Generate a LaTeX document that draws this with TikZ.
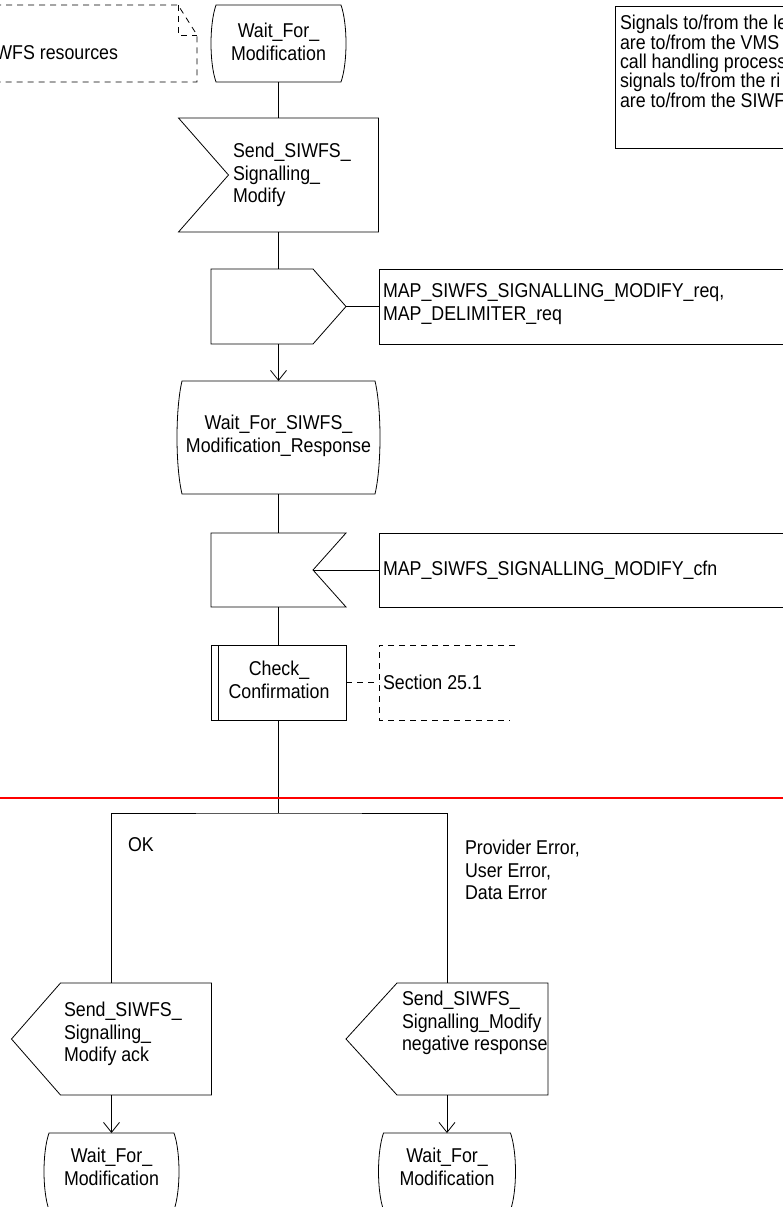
\documentclass[tikz,border=0pt]{standalone}
\usepackage{fontspec}
\setmainfont{Liberation Sans}[FakeStretch=0.89]
\usetikzlibrary{arrows.meta,calc}
\newcommand\fs{\fontsize{20}{22.5}\selectfont}
\newcommand\statepath[2]{%
 \draw[ln] ($(#1.north west)+(#2,0)$) -- ($(#1.north east)+(-#2,0)$)
  .. controls ($(#1.north east)!0.25!(#1.south east)+(#2/3,0)$) and ($(#1.north east)!0.75!(#1.south east)+(#2/3,0)$) .. ($(#1.south east)+(-#2,0)$)
  -- ($(#1.south west)+(#2,0)$)
  .. controls ($(#1.south west)!0.25!(#1.north west)+(-#2/3,0)$) and ($(#1.south west)!0.75!(#1.north west)+(-#2/3,0)$) .. cycle;}
\tikzset{
 shp/.style={rectangle, inner sep=0pt, outer sep=0pt},
 txt/.style={inner sep=0pt, outer sep=0pt, font=\fs, align=left},
 ctxt/.style={inner sep=0pt, outer sep=0pt, font=\fs, align=center},
 ln/.style={draw=black, line width=0.8pt},
 dsh/.style={ln, dash pattern=on 6pt off 5pt},
 arr/.style={ln, -{Straight Barb[length=10pt,width=16pt]}},
}
\begin{document}
\begin{tikzpicture}[x=1pt,y=-1pt]
\useasboundingbox (0,0) rectangle (783,1207);
\fill[white] (0,0) rectangle (783,1207);
\clip (0,0) rectangle (783,1207);

% comment top-left
\node[shp, minimum width=202pt, minimum height=77pt] (cmt) at (96,43.5) {};
\draw[dsh] (cmt.north west) -- ($(cmt.north east)+(-19,0)$) -- ($(cmt.north east)+(0,30)$) -- (cmt.south east) -- (cmt.south west);
\draw[dsh] ($(cmt.north east)+(-19,0)$) -- ($(cmt.north east)+(-19,30)$) -- ($(cmt.north east)+(0,30)$);
\node[txt, anchor=east] (cmtt) at (118,53) {WFS resources};

% note top-right
\node[shp, draw, line width=0.8pt, minimum width=175pt, minimum height=142pt] (note) at (702.5,77) {};
\node[txt, anchor=north west, font=\fontsize{20}{18.5}\selectfont] (notet) at (620,15.5) {Signals to/from the le\\are to/from the VMS\\call handling process\\signals to/from the ri\\are to/from the SIWF};

% state 0
\node[shp, minimum width=135pt, minimum height=77pt] (st0) at (278.5,43.5) {};
\statepath{st0}{5}
\node[ctxt] (st0t) at (278.5,42) {Wait\_For\_\\Modification};

% input 0
\node[shp, minimum width=200pt, minimum height=114pt] (in0) at (278.5,175) {};
\draw[ln] (in0.north west) -- (in0.north east) -- (in0.south east) -- (in0.south west) -- ($(in0.west)+(50,0)$) -- cycle;
\node[txt, anchor=west] (in0t) at (233,175) {Send\_SIWFS\_\\Signalling\_\\Modify};

% output 1
\node[shp, minimum width=135pt, minimum height=75pt] (out1) at (278.5,306.5) {};
\draw[ln] (out1.north west) -- ($(out1.north east)+(-33,0)$) -- (out1.east) -- ($(out1.south east)+(-33,0)$) -- (out1.south west) -- cycle;
\node[shp, draw, line width=0.8pt, minimum width=411pt, minimum height=75pt] (sig1) at (584.5,306.5) {};
\node[txt, anchor=west] (sig1t) at (383,304) {MAP\_SIWFS\_SIGNALLING\_MODIFY\_req,\\MAP\_DELIMITER\_req};

% state 1
\node[shp, minimum width=203pt, minimum height=113pt] (st1) at (278.5,437.5) {};
\statepath{st1}{5}
\node[ctxt] (st1t) at (278.5,436) {Wait\_For\_SIWFS\_\\Modification\_Response};

% input 2
\node[shp, minimum width=135pt, minimum height=74pt] (in2) at (278.5,570) {};
\draw[ln] (in2.north west) -- (in2.north east) -- ($(in2.east)+(-33,0)$) -- (in2.south east) -- (in2.south west) -- cycle;
\coordinate (in2n) at ($(in2.east)+(-33,0)$);
\node[shp, draw, line width=0.8pt, minimum width=411pt, minimum height=74pt] (sig2) at (584.5,570) {};
\node[txt, anchor=west] (sig2t) at (383,570) {MAP\_SIWFS\_SIGNALLING\_MODIFY\_cfn};

% procedure
\node[shp, draw, line width=0.8pt, minimum width=135pt, minimum height=75pt] (chk) at (278.5,682.5) {};
\draw[ln] ($(chk.north west)+(7,0)$) -- ($(chk.south west)+(7,0)$);
\node[ctxt] (chkt) at (279,680) {Check\_\\Confirmation};
\node[shp, minimum width=136pt, minimum height=75pt] (sec) at (447,682.5) {};
\draw[dsh] (sec.north east) -- (sec.north west) -- (sec.south west) -- ($(sec.south east)+(-5,0)$);
\node[txt, anchor=west] (sect) at (383,682) {Section 25.1};

% red line
\coordinate (redL) at (0,798);
\coordinate (redR) at (783,798);

% branches
\coordinate (jn) at (278.5,813);
\node[txt, anchor=west] (okt) at (128,845) {OK};
\node[txt, anchor=west] (errt) at (465,870) {Provider Error,\\User Error,\\Data Error};

\node[shp, minimum width=200pt, minimum height=112pt] (outL) at (111.5,1039) {};
\draw[ln] ($(outL.north west)+(49,0)$) -- (outL.north east) -- (outL.south east) -- ($(outL.south west)+(49,0)$) -- (outL.west) -- cycle;
\node[txt, anchor=west] (outLt) at (64,1034) {Send\_SIWFS\_\\Signalling\_\\Modify ack};

\node[shp, minimum width=202pt, minimum height=112pt] (outR) at (447,1039) {};
\draw[ln] ($(outR.north west)+(51,0)$) -- (outR.north east) -- (outR.south east) -- ($(outR.south west)+(51,0)$) -- (outR.west) -- cycle;
\node[txt, anchor=west] (outRt) at (402,1023) {Send\_SIWFS\_\\Signalling\_Modify\\negative response};

\node[shp, minimum width=135pt, minimum height=77pt] (stL) at (111.5,1171.5) {};
\statepath{stL}{5}
\node[ctxt] (stLt) at (111.5,1167) {Wait\_For\_\\Modification};

\node[shp, minimum width=137pt, minimum height=77pt] (stR) at (447,1171.5) {};
\statepath{stR}{5}
\node[ctxt] (stRt) at (447,1167) {Wait\_For\_\\Modification};

% connectors
\draw[ln] (st0.south) -- (in0.north);
\draw[ln] (in0.south) -- (out1.north);
\draw[ln] (out1.east) -- (sig1.west);
\draw[arr] (out1.south) -- (st1.north);
\draw[ln] (st1.south) -- (in2.north);
\draw[ln] (in2n) -- (sig2.west);
\draw[ln] (in2.south) -- (chk.north);
\draw[dsh] (chk.east) -- (sec.west);
\draw[ln] (chk.south) -- (jn);
\draw[ln] (outL.north) |- (jn) -| (outR.north);
\draw[arr] (outL.south) -- (stL.north);
\draw[arr] (outR.south) -- (stR.north);
\draw[red, line width=1.6pt] (redL) -- (redR);
\end{tikzpicture}
\end{document}
